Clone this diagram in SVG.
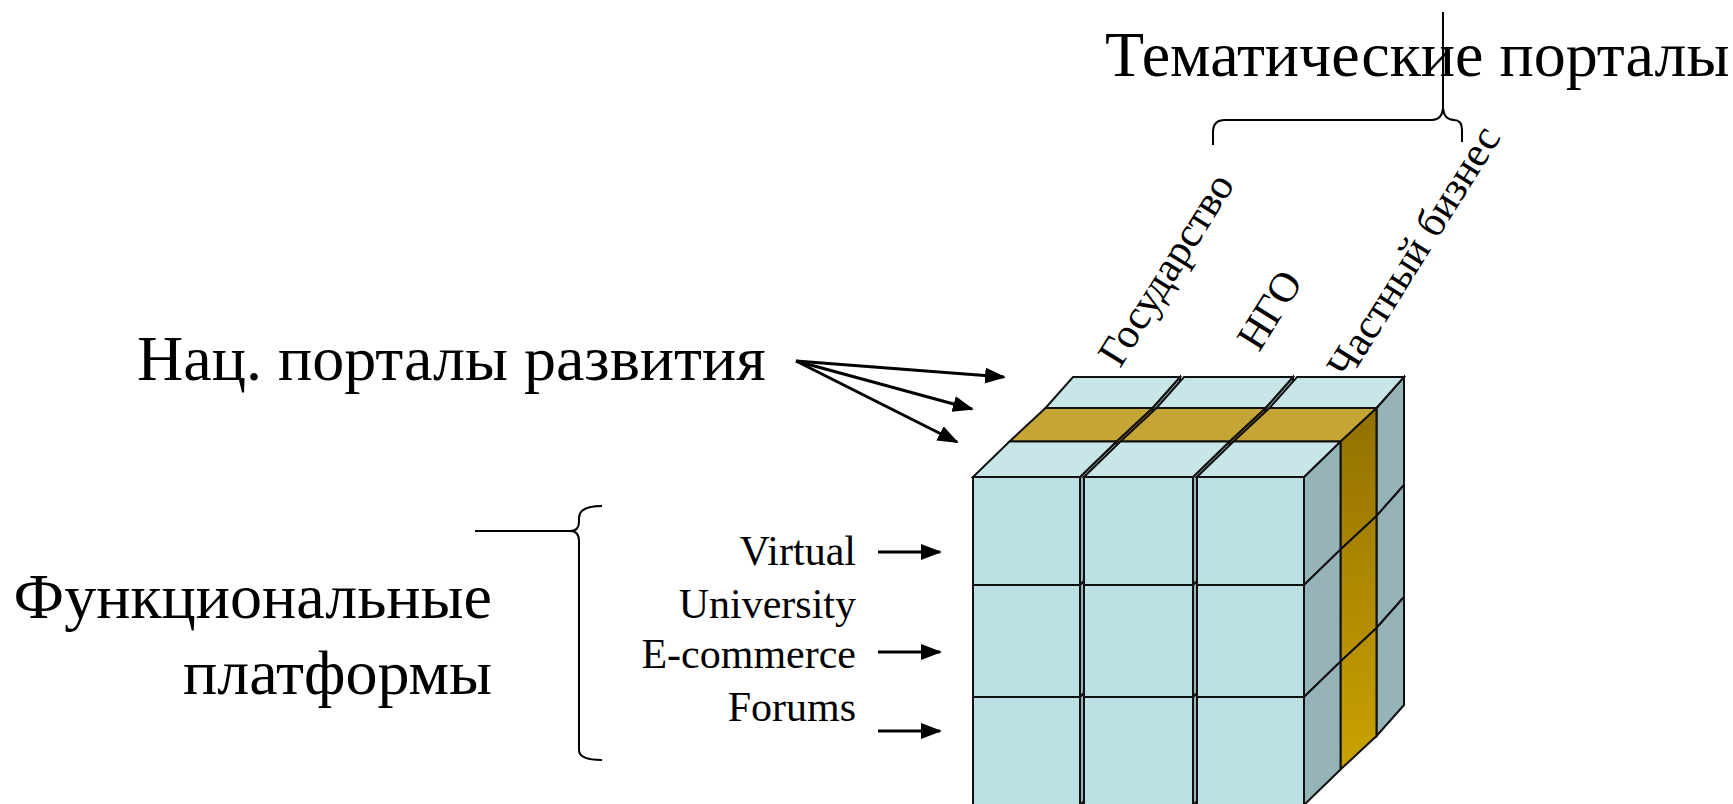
<svg xmlns="http://www.w3.org/2000/svg" width="1733" height="804" viewBox="0 0 1733 804">
<style>
.t{font-family:"Liberation Serif","Times New Roman","DejaVu Serif",serif;fill:#000}
.big{font-size:64px}
.sm{font-size:42px}
.e{stroke:#111;stroke-width:2;stroke-linejoin:miter}
.front{fill:#bce0e3}
.top{fill:#c8e6e8}
.side{fill:#96b4b8}
.gtop{fill:#c4a535}
.gside{fill:url(#gold)}
.ln{fill:none;stroke:#000;stroke-width:3}
.br{fill:none;stroke:#000;stroke-width:2}
</style>
<defs>
<linearGradient id="gold" gradientUnits="userSpaceOnUse" x1="0" y1="408" x2="0" y2="770">
<stop offset="0" stop-color="#927000"/>
<stop offset="1" stop-color="#caa200"/>
</linearGradient>
<marker id="ah" markerUnits="userSpaceOnUse" markerWidth="22" markerHeight="16" refX="19" refY="8" orient="auto">
<path d="M0,0 L21,8 L0,16 z" fill="#000"/>
</marker>
</defs>

<g id="cube">
<g id="layer-back" class="e">
<polygon class="side" points="1152.5,408 1180,377 1180,485 1152.5,516"/>
<polygon class="side" points="1152.5,516 1180,485 1180,597 1152.5,628"/>
<polygon class="side" points="1152.5,628 1180,597 1180,705 1152.5,736"/>
<polygon class="top" points="1045.5,408 1152.5,408 1180,377 1073,377"/>
<polygon class="side" points="1265.5,408 1293,377 1293,485 1265.5,516"/>
<polygon class="side" points="1265.5,516 1293,485 1293,597 1265.5,628"/>
<polygon class="side" points="1265.5,628 1293,597 1293,705 1265.5,736"/>
<polygon class="top" points="1156.5,408 1265.5,408 1293,377 1184,377"/>
<polygon class="side" points="1376.5,408 1404,377 1404,485 1376.5,516"/>
<polygon class="side" points="1376.5,516 1404,485 1404,597 1376.5,628"/>
<polygon class="side" points="1376.5,628 1404,597 1404,705 1376.5,736"/>
<polygon class="top" points="1269.5,408 1376.5,408 1404,377 1297,377"/>
</g>
<g id="layer-middle" class="e">
<polygon class="gside" points="1116.5,441.5 1152.5,408 1152.5,516 1116.5,549.5"/>
<polygon class="gside" points="1116.5,549.5 1152.5,516 1152.5,628 1116.5,661.5"/>
<polygon class="gside" points="1116.5,661.5 1152.5,628 1152.5,736 1116.5,769.5"/>
<polygon class="gtop" points="1009.5,441.5 1116.5,441.5 1152.5,408 1045.5,408"/>
<polygon class="gside" points="1229.5,441.5 1265.5,408 1265.5,516 1229.5,549.5"/>
<polygon class="gside" points="1229.5,549.5 1265.5,516 1265.5,628 1229.5,661.5"/>
<polygon class="gside" points="1229.5,661.5 1265.5,628 1265.5,736 1229.5,769.5"/>
<polygon class="gtop" points="1120.5,441.5 1229.5,441.5 1265.5,408 1156.5,408"/>
<polygon class="gside" points="1340.5,441.5 1376.5,408 1376.5,516 1340.5,549.5"/>
<polygon class="gside" points="1340.5,549.5 1376.5,516 1376.5,628 1340.5,661.5"/>
<polygon class="gside" points="1340.5,661.5 1376.5,628 1376.5,736 1340.5,769.5"/>
<polygon class="gtop" points="1233.5,441.5 1340.5,441.5 1376.5,408 1269.5,408"/>
</g>
<g id="layer-front" class="e">
<polygon class="side" points="1080,477 1116.5,441.5 1116.5,549.5 1080,585"/>
<polygon class="side" points="1080,585 1116.5,549.5 1116.5,661.5 1080,697"/>
<polygon class="side" points="1080,697 1116.5,661.5 1116.5,769.5 1080,805"/>
<polygon class="top" points="973,477 1080,477 1116.5,441.5 1009.5,441.5"/>
<rect class="front" x="973" y="477" width="107" height="108"/>
<rect class="front" x="973" y="585" width="107" height="112"/>
<rect class="front" x="973" y="697" width="107" height="108"/>
<polygon class="side" points="1193,477 1229.5,441.5 1229.5,549.5 1193,585"/>
<polygon class="side" points="1193,585 1229.5,549.5 1229.5,661.5 1193,697"/>
<polygon class="side" points="1193,697 1229.5,661.5 1229.5,769.5 1193,805"/>
<polygon class="top" points="1084,477 1193,477 1229.5,441.5 1120.5,441.5"/>
<rect class="front" x="1084" y="477" width="109" height="108"/>
<rect class="front" x="1084" y="585" width="109" height="112"/>
<rect class="front" x="1084" y="697" width="109" height="108"/>
<polygon class="side" points="1304,477 1340.5,441.5 1340.5,549.5 1304,585"/>
<polygon class="side" points="1304,585 1340.5,549.5 1340.5,661.5 1304,697"/>
<polygon class="side" points="1304,697 1340.5,661.5 1340.5,769.5 1304,805"/>
<polygon class="top" points="1197,477 1304,477 1340.5,441.5 1233.5,441.5"/>
<rect class="front" x="1197" y="477" width="107" height="108"/>
<rect class="front" x="1197" y="585" width="107" height="112"/>
<rect class="front" x="1197" y="697" width="107" height="108"/>
</g>
</g>

<g id="connectors">
<line class="ln" x1="796" y1="361" x2="1004" y2="377" marker-end="url(#ah)"/>
<line class="ln" x1="796" y1="361" x2="972" y2="409" marker-end="url(#ah)"/>
<line class="ln" x1="796" y1="361" x2="957" y2="442" marker-end="url(#ah)"/>
<line class="ln" x1="878" y1="552" x2="940" y2="552" marker-end="url(#ah)"/>
<line class="ln" x1="878" y1="652" x2="940" y2="652" marker-end="url(#ah)"/>
<line class="ln" x1="878" y1="731" x2="940" y2="731" marker-end="url(#ah)"/>
<path id="brace-top" class="br" d="M1213,145 L1213,132 Q1213,120 1225,120 L1432,120 Q1442,120 1443,108 L1443,12 M1443,108 Q1444,120 1454,120 Q1462,120 1462,130 L1462,142"/>
<path id="brace-left" class="br" d="M602,506 Q579,506 579,518 L579,522 Q579,531 570,531 L475,531 M570,531 Q579,531 579,541 L579,750 Q579,760 602,760"/>
</g>

<g id="label-thematic"><text class="t big" x="1105" y="76">Тематические порталы</text></g>
<g id="label-national"><text class="t big" x="137" y="380">Нац. порталы развития</text></g>
<g id="label-functional"><text class="t big" text-anchor="end" x="492" y="618">Функциональные</text><text class="t big" text-anchor="end" x="492" y="694">платформы</text></g>
<g id="label-platforms" class="t sm" text-anchor="end">
<text x="856" y="565">Virtual</text>
<text x="856" y="618">University</text>
<text x="856" y="668">E-commerce</text>
<text x="856" y="721">Forums</text>
</g>
<g id="label-gov"><text class="t sm" transform="translate(1120,369) rotate(-58)">Государство</text></g>
<g id="label-ngo"><text class="t sm" transform="translate(1259,353) rotate(-58)">НГО</text></g>
<g id="label-business"><text class="t sm" transform="translate(1349,381) rotate(-58)">Частный бизнес</text></g>
</svg>
